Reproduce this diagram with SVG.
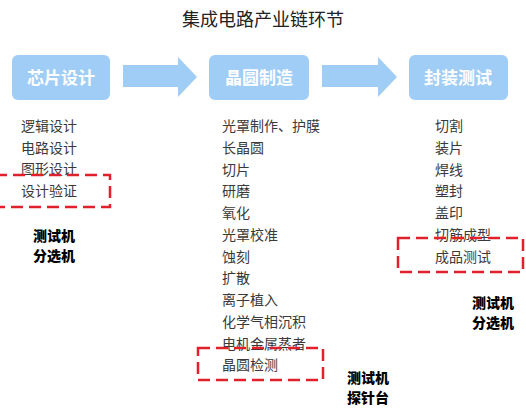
<svg xmlns="http://www.w3.org/2000/svg" width="526" height="416" viewBox="0 0 526 416">
<style>
.t{font-family:"Liberation Sans","Noto Sans CJK SC",sans-serif;font-size:14px;fill:#3a3a3a}
.title{font-family:"Liberation Serif","Noto Sans CJK SC",serif;font-size:18px;fill:#222;text-anchor:middle}
.box{fill:#9fcdf6}
.bt{font-family:"Liberation Sans","Noto Sans CJK SC",sans-serif;font-size:17px;font-weight:bold;fill:#fff;text-anchor:middle}
.arr{fill:#9fcdf6}
.dash{fill:none;stroke:#e0202a;stroke-width:2.5;stroke-dasharray:12 6}
.b{font-family:"Liberation Serif","Noto Sans CJK SC",serif;font-size:14px;font-weight:900;fill:#000}
</style>
<rect width="526" height="416" fill="#fff"/>
<text class="title" x="263" y="26">集成电路产业链环节</text>
<g id="connectors">
<polygon class="arr" points="123,65 178,65 178,57 197,77 178,97 178,87 123,87"/>
<polygon class="arr" points="322,65 378,65 378,57 397,77 378,97 378,87 322,87"/>
</g>
<g id="node-design">
<rect class="box" x="12" y="55" width="98" height="45" rx="6"/>
<text class="bt" x="61" y="84">芯片设计</text>
</g>
<g id="node-wafer">
<rect class="box" x="209" y="55" width="100" height="45" rx="6"/>
<text class="bt" x="259" y="84">晶圆制造</text>
</g>
<g id="node-package">
<rect class="box" x="409" y="55" width="99" height="45" rx="6"/>
<text class="bt" x="458" y="84">封装测试</text>
</g>
<g id="list-design">
<text class="t" x="21" y="131">逻辑设计</text>
<text class="t" x="21" y="153">电路设计</text>
<text class="t" x="21" y="174">图形设计</text>
<text class="t" x="21" y="196">设计验证</text>
<rect class="dash" x="-5" y="175" width="115" height="32"/>
<text class="b" x="33" y="241">测试机</text>
<text class="b" x="33" y="261">分选机</text>
</g>
<g id="list-wafer">
<text class="t" x="222" y="131">光罩制作、护膜</text>
<text class="t" x="222" y="153">长晶圆</text>
<text class="t" x="222" y="175">切片</text>
<text class="t" x="222" y="196">研磨</text>
<text class="t" x="222" y="218">氧化</text>
<text class="t" x="222" y="240">光罩校准</text>
<text class="t" x="222" y="262">蚀刻</text>
<text class="t" x="222" y="283">扩散</text>
<text class="t" x="222" y="305">离子植入</text>
<text class="t" x="222" y="327">化学气相沉积</text>
<text class="t" x="222" y="349">电机金属蒸者</text>
<text class="t" x="222" y="370">晶圆检测</text>
<rect class="dash" x="198" y="348" width="125" height="32"/>
<text class="b" x="347" y="383">测试机</text>
<text class="b" x="347" y="403">探针台</text>
</g>
<g id="list-package">
<text class="t" x="435" y="131">切割</text>
<text class="t" x="435" y="153">装片</text>
<text class="t" x="435" y="175">焊线</text>
<text class="t" x="435" y="196">塑封</text>
<text class="t" x="435" y="218">盖印</text>
<text class="t" x="435" y="240">切筋成型</text>
<text class="t" x="435" y="262">成品测试</text>
<rect class="dash" x="398" y="238" width="125" height="34"/>
<text class="b" x="472" y="308">测试机</text>
<text class="b" x="472" y="328">分选机</text>
</g>
</svg>
